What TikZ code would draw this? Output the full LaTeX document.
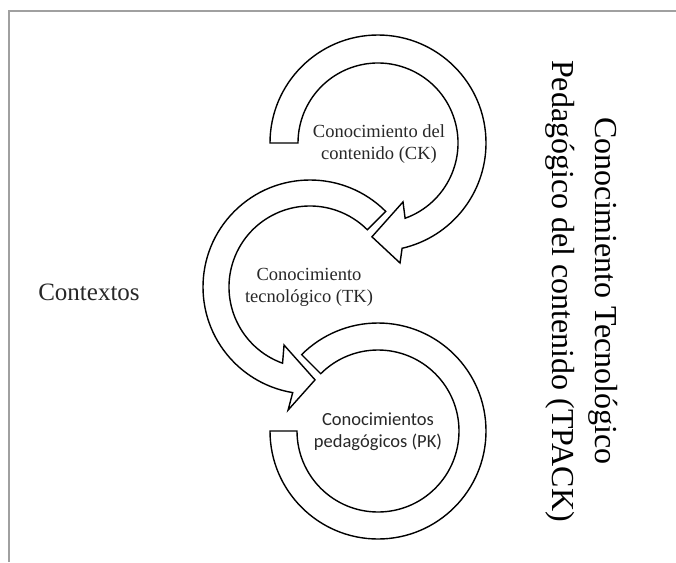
\documentclass[tikz,border=0pt]{standalone}
\usepackage{fontspec}
\setmainfont{Liberation Serif}
\newfontfamily\calibrifont{Carlito}
\definecolor{framegray}{RGB}{160,160,160}
\definecolor{labelgray}{RGB}{40,40,40}
\tikzset{
  band/.style={draw=black, line width=1.4pt, fill=white, line join=miter},
  lbl/.style={align=center, text=labelgray, inner sep=0pt, font=\fontsize{18.5}{22}\selectfont},
}
\begin{document}
\begin{tikzpicture}[x=1pt,y=1pt]
\useasboundingbox (0,0) rectangle (676,-562);
\fill[white] (0,0) rectangle (676,-562);
% frame
\draw[framegray, line width=2pt] (9,-562) -- (9,-11) -- (676,-11);
% CK arrow
\begin{scope}[shift={(378,-143)}]
\draw[band] (180:108) arc[start angle=180, end angle=-77.1, radius=108]
  -- (-79.6:122) -- (-93.7:94) -- (-67:64) -- (-70.2:80)
  arc[start angle=-70.2, end angle=180, radius=80] -- cycle;
\end{scope}
% TK arrow
\begin{scope}[shift={(310,-287)}]
\draw[band] (45:107) arc[start angle=45, end angle=260.7, radius=107]
  -- (259.9:125) -- (273.1:93) -- (245.9:63.6) -- (250.2:81)
  arc[start angle=250.2, end angle=45, radius=81] -- cycle;
\end{scope}
% PK band
\begin{scope}[shift={(378,-431)}]
\draw[band] (180:108) arc[start angle=180, end angle=495, radius=108]
  -- (495:81) arc[start angle=495, end angle=180, radius=81] -- cycle;
\end{scope}
% labels
\node[lbl] (ck) at (379,-144) {Conocimiento del\\contenido (CK)};
\node[lbl] (tk) at (309,-287) {Conocimiento\\tecnológico (TK)};
\node[lbl, font=\calibrifont\fontsize{18.5}{22}\selectfont] (pk) at (378,-432) {Conocimientos\\pedagógicos (PK)};
\node[text=labelgray, font=\fontsize{25}{29}\selectfont, inner sep=0pt] (ctx) at (89,-292) {Contextos};
\node[rotate=-90, align=center, inner sep=0pt, font=\fontsize{32}{43}\selectfont] (tpack) at (582,-291)
  {Conocimiento Tecnológico\\Pedagógico del contenido (TPACK)};
\end{tikzpicture}
\end{document}
